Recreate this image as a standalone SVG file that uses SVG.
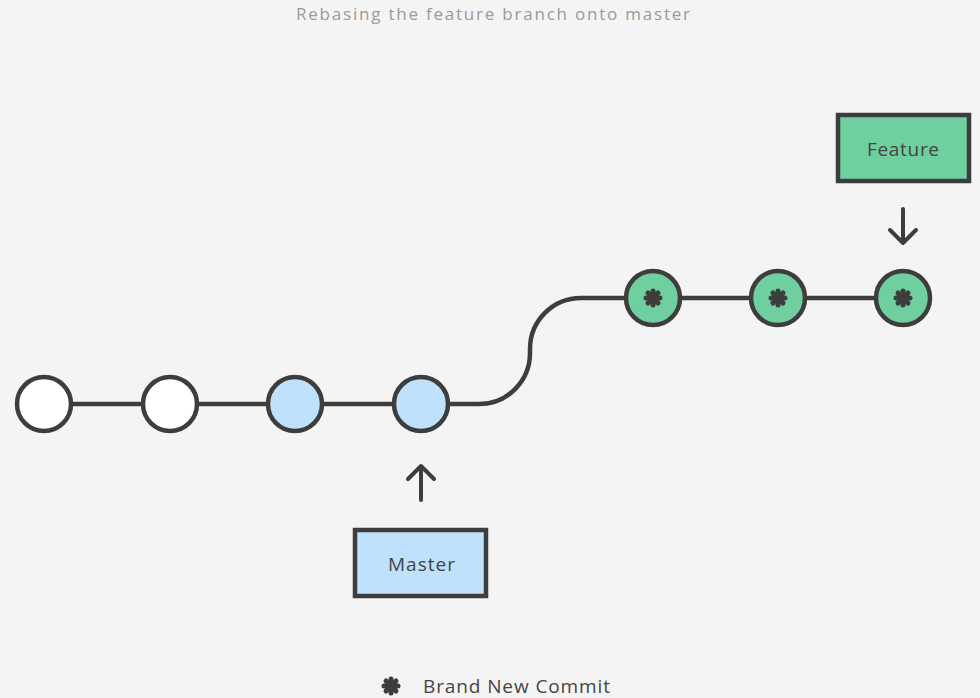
<svg xmlns="http://www.w3.org/2000/svg" width="980" height="698" viewBox="0 0 980 698">
<style>
.c{stroke:#3d3d3d;stroke-width:4.5}
.w{fill:#ffffff}
.b{fill:#bfe1fb}
.g{fill:#6fcf9f}
.ln{fill:none;stroke:#3d3d3d;stroke-width:4.5}
.lbl{font-family:"Open Sans",Lato,"Liberation Sans",sans-serif;font-size:19px;fill:#444}
.ttl{font-family:"Open Sans",Lato,"Liberation Sans",sans-serif;font-size:17px;fill:#9a9a9a}
.ar{fill:none;stroke:#3d3d3d;stroke-width:4;stroke-linecap:round;stroke-linejoin:round}
</style>
<defs>
<g id="star">
<g stroke="#3d3d3d" stroke-width="5" stroke-linecap="round">
<line x1="0" y1="-7" x2="0" y2="7"/>
<line x1="-7" y1="0" x2="7" y2="0"/>
<line x1="-5" y1="-5" x2="5" y2="5"/>
<line x1="-5" y1="5" x2="5" y2="-5"/>
</g>
<circle r="5" fill="#3d3d3d"/>
</g>
</defs>
<rect width="980" height="698" fill="#f4f4f4"/>
<text class="ttl" x="296" y="20" textLength="394" lengthAdjust="spacing">Rebasing the feature branch onto master</text>
<g id="connectors">
<path class="ln" d="M44 404 H449"/>
<path class="ln" d="M449 404 H479 A51 51 0 0 0 530 353 V349 A51 51 0 0 1 581 298 H903"/>
<path class="ar" d="M903 209 V243 M890 230 L903 243 L916 230"/>
<path class="ar" d="M421 500 V466 M408 479 L421 466 L434 479"/>
</g>
<g id="c1"><circle class="c w" cx="44" cy="404" r="27"/></g>
<g id="c2"><circle class="c w" cx="170" cy="404" r="27"/></g>
<g id="c3"><circle class="c b" cx="295" cy="404" r="27"/></g>
<g id="c4"><circle class="c b" cx="421" cy="404" r="27"/></g>
<g id="c5"><circle class="c g" cx="653" cy="298" r="27"/><use href="#star" x="653" y="298"/></g>
<g id="c6"><circle class="c g" cx="778" cy="298" r="27"/><use href="#star" x="778" y="298"/></g>
<g id="c7"><circle class="c g" cx="903" cy="298" r="27"/><use href="#star" x="903" y="298"/></g>
<g id="feature"><rect x="838" y="115" width="131" height="66" class="c g"/><text class="lbl" x="867" y="156" textLength="72" lengthAdjust="spacing">Feature</text></g>
<g id="master"><rect x="355" y="530" width="131" height="66" class="c b"/><text class="lbl" x="388" y="571" textLength="67" lengthAdjust="spacing">Master</text></g>
<g id="legend"><use href="#star" x="391" y="686"/><text class="lbl" x="423" y="693" textLength="187" lengthAdjust="spacing">Brand New Commit</text></g>
</svg>
